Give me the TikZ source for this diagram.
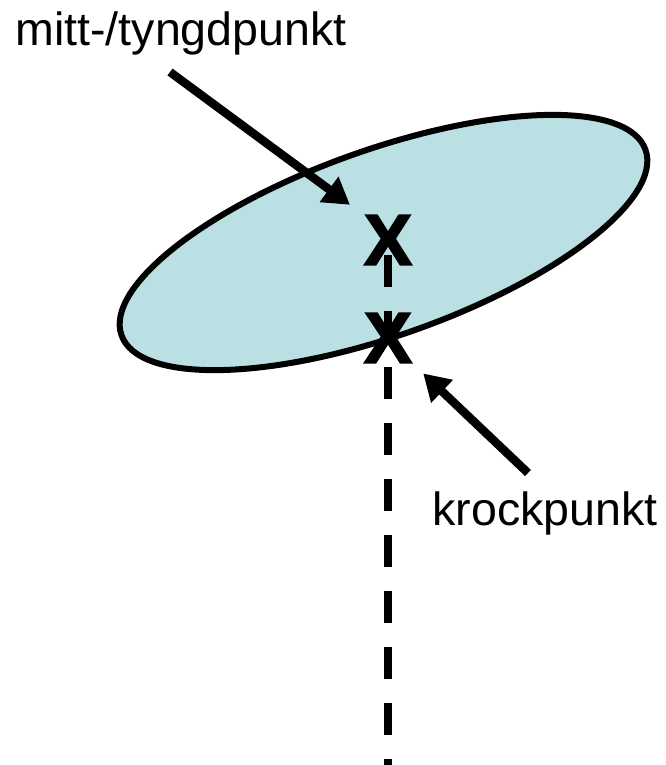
\documentclass[tikz,border=0pt]{standalone}
\usepackage{fontspec}
\setmainfont{Liberation Sans}
\newfontfamily\crossfont[FakeBold=2.5]{Liberation Sans Bold}
\usetikzlibrary{arrows.meta, positioning, shapes.geometric}

\definecolor{bodyblue}{RGB}{186,224,228}

\tikzset{
  body/.style={ellipse, draw, fill=bodyblue, line width=0.12cm,
    minimum width=11.12cm, minimum height=3.72cm, inner sep=0pt},
  cross/.style={inner sep=0pt, font=\fontsize{41}{41}\crossfont},
  label/.style={inner sep=0pt, anchor=base west, font=\fontsize{26.5}{30}\selectfont},
  pointer/.style={line width=0.17cm, -{Triangle[length=0.52cm, width=0.6cm]}},
  plumb/.style={line width=0.17cm, dash pattern=on 0.64cm off 0.48cm, dash phase=0.82cm}
}

\begin{document}
\begin{tikzpicture}[x=0.02cm, y=-0.02cm]
  \useasboundingbox (0,0) rectangle (666,765);

  \node[body, rotate=19.5] (disc) at (383.5,242.5) {};

  \node[label] (cmlabel) at (15,45) {mitt-/tyngdpunkt};
  \node[label] (hitlabel) at (432,525) {krockpunkt};

  \node[cross] (cm) at (388,240) {X};
  \coordinate (foot) at (388,765);
  \draw[plumb] (cm.center) -- (foot);
  \node[cross] (hit) at (388,338) {X};

  \coordinate (cmtail) at (170,72);
  \coordinate (hittail) at (528,473);
  \draw[pointer, shorten >=0.34cm] (cmtail) -- (cm.north west);
  \draw[pointer, shorten >=0.3cm] (hittail) -- (hit.south east);
\end{tikzpicture}
\end{document}
